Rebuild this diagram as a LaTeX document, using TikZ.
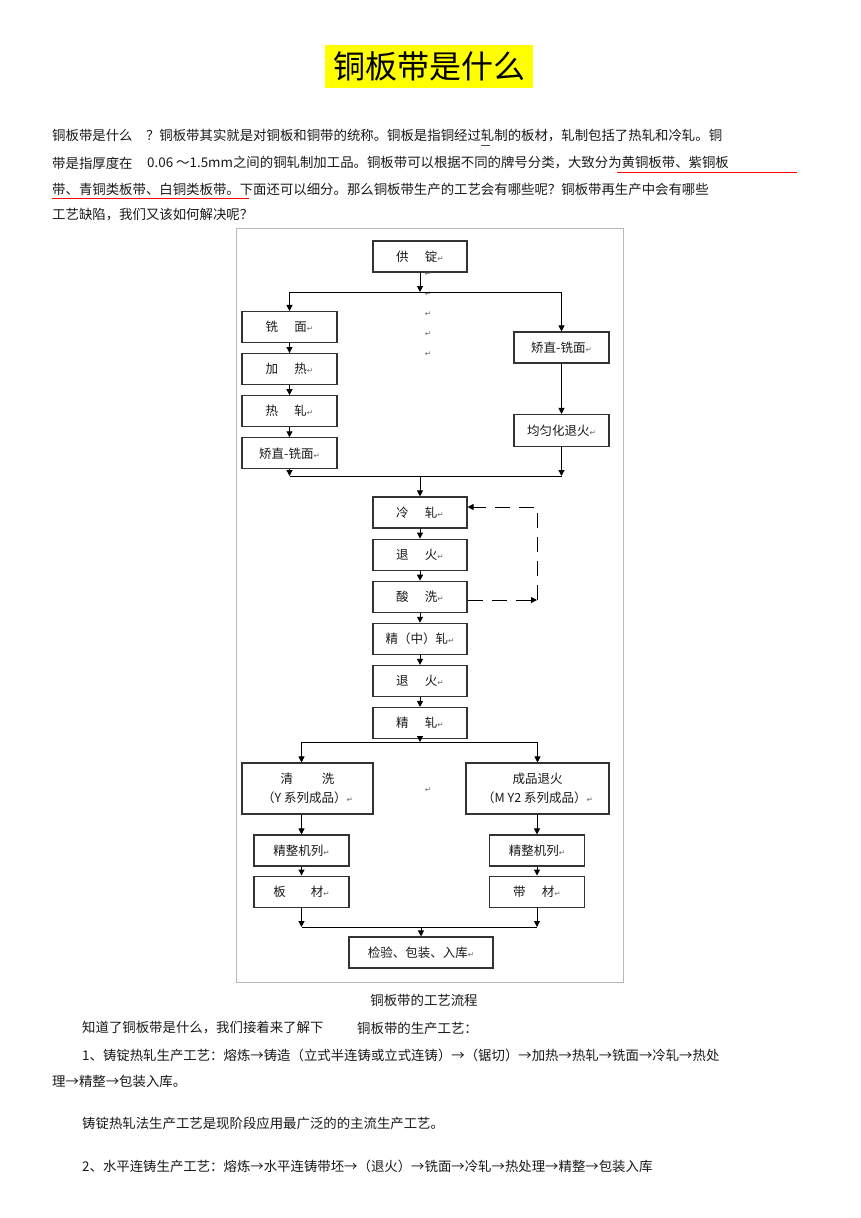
\documentclass[tikz,border=0pt]{standalone}
\usepackage{fontspec}
\setmainfont{Noto Sans CJK SC}
\newfontfamily\symfont{DejaVu Sans}
\usetikzlibrary{positioning, arrows.meta}
\definecolor{hlyellow}{rgb}{1,1,0}
\definecolor{boxgray}{rgb}{0.2,0.2,0.2}
\definecolor{framegray}{rgb}{0.72,0.72,0.72}
\definecolor{textblk}{rgb}{0.1,0.1,0.1}
\newcommand{\retmark}{{\symfont\fontsize{7.5}{7.5}\selectfont\textcolor{black!60}{↵}}}

\tikzset{
  proc/.style={draw=boxgray, line width=1.1pt, minimum width=95pt, minimum height=31pt,
    inner sep=0pt, font=\fontsize{12.5}{19}\selectfont, text=textblk},
  body/.style={anchor=west, inner sep=0pt, font=\fontsize{13.4}{16}\selectfont, text=textblk},
  flow/.style={draw, line width=1pt, -{Triangle[length=6pt,width=6pt]}},
  link/.style={draw, line width=1pt},
  loopback/.style={draw, line width=1pt, dash pattern=on 15pt off 9pt, -{Triangle[length=6pt,width=6pt]}},
}

\begin{document}
\begin{tikzpicture}[x=1pt, y=-1pt]
\useasboundingbox[fill=white] (0,0) rectangle (860,1218);

\node[fill=hlyellow, minimum width=208pt, minimum height=43pt, inner sep=0pt,
font=\fontsize{32}{36}\selectfont] (title) at (429,66.5) {铜板带是什么\hspace{10pt}};

\node[body] (par1) at (52,136) {铜板带是什么　？铜板带其实就是对铜板和铜带的统称。铜板是指铜经过轧制的板材，轧制包括了热轧和冷轧。铜};
\node[body] (par2a) at (52,163) {带是指厚度在};
\node[body] (par2b) at (147,163) {0.06 ～1.5mm之间的铜轧制加工品。铜板带可以根据不同的牌号分类，大致分为黄铜板带、紫铜板};
\node[body] (par3) at (52,189) {带、青铜类板带、白铜类板带。下面还可以细分。那么铜板带生产的工艺会有哪些呢？铜板带再生产中会有哪些};
\node[body] (par4) at (52,215) {工艺缺陷，我们又该如何解决呢？};
\draw[black!70, line width=1pt] (481,145) -- (490,145);
\draw[red, line width=0.9pt] (617,172) -- (797,172);
\draw[red, line width=0.9pt] (52,198) -- (249,198);

\draw[framegray, line width=1pt] (236,228) rectangle (623,982);

\node[proc, minimum width=94pt] (gongding) at (420,256.5) {供\hspace{1.3em}锭\retmark};

\node[proc] (xianmian) at (289.5,327) {铣\hspace{1.3em}面\retmark};
\node[proc, below=10pt of xianmian] (jiare) {加\hspace{1.3em}热\retmark};
\node[proc, below=10pt of jiare] (rezha) {热\hspace{1.3em}轧\retmark};
\node[proc, below=10pt of rezha] (jiaozhiL) {矫直-铣面\retmark};

\node[proc] (jiaozhiR) at (561.5,347.5) {矫直-铣面\retmark};
\node[proc, minimum height=32pt] (junyun) at (561.5,430.5) {均匀化退火\retmark};

\node[proc, minimum width=94pt] (lengzha) at (420,512.5) {冷\hspace{1.3em}轧\retmark};
\node[proc, minimum width=94pt, below=10pt of lengzha] (tuihuo) {退\hspace{1.3em}火\retmark};
\node[proc, minimum width=94pt, below=10pt of tuihuo] (suanxi) {酸\hspace{1.3em}洗\retmark};
\node[proc, minimum width=94pt, below=10pt of suanxi] (zhongzha) {精（中）轧\retmark};
\node[proc, minimum width=94pt, below=10pt of zhongzha] (tuihuob) {退\hspace{1.3em}火\retmark};
\node[proc, minimum width=94pt, below=10pt of tuihuob] (jingzha) {精\hspace{1.3em}轧\retmark};

\node[proc, minimum width=131pt, minimum height=51pt, align=center] (qingxi) at (307.5,788.5)
{清\hspace{2.3em}洗\\（Y 系列成品）\retmark};
\node[proc, minimum width=143pt, minimum height=51pt, align=center] (chengpin) at (537.5,788.5)
{成品退火\\（M Y2 系列成品）\retmark};

\node[proc] (jingzhengL) at (301.5,850.5) {精整机列\retmark};
\node[proc, below=9pt of jingzhengL] (bancai) {板\hspace{2em}材\retmark};
\node[proc] (jingzhengR) at (537,850.5) {精整机列\retmark};
\node[proc, below=9pt of jingzhengR] (daicai) {带\hspace{1.3em}材\retmark};

\node[proc, minimum width=144pt] (jianyan) at (421,952.5) {检验、包装、入库\retmark};

\foreach \i/\yy in {1/274,2/294,3/314,4/334,5/354,6/790}
  \node[inner sep=0pt] (pm\i) at (428,\yy) {\retmark};

\coordinate (split1) at (420,292);
\draw[flow] (gongding) -- (split1);
\draw[link] (xianmian |- split1) -- (jiaozhiR |- split1);
\draw[flow] (xianmian |- split1) -- (xianmian);
\draw[flow] (jiaozhiR |- split1) -- (jiaozhiR);
\draw[flow] (xianmian) -- (jiare);
\draw[flow] (jiare) -- (rezha);
\draw[flow] (rezha) -- (jiaozhiL);
\draw[flow] (jiaozhiR) -- (junyun);

\coordinate (merge1) at (420,476);
\draw[flow] (jiaozhiL) -- (jiaozhiL |- merge1);
\draw[flow] (junyun) -- (junyun |- merge1);
\draw[link] (jiaozhiL |- merge1) -- (junyun |- merge1);
\draw[flow] (merge1) -- (lengzha);

\draw[flow] (lengzha) -- (tuihuo);
\draw[flow] (tuihuo) -- (suanxi);
\draw[flow] (suanxi) -- (zhongzha);
\draw[flow] (zhongzha) -- (tuihuob);
\draw[flow] (tuihuob) -- (jingzha);

\coordinate (loopbot) at (537,600);
\coordinate (looptop) at (537,507);
\draw[loopback] (loopbot -| suanxi.east) -- (loopbot);
\draw[loopback] (loopbot) -- (looptop) -- (looptop -| lengzha.east);

\coordinate (split2) at (420,742);
\draw[flow] (jingzha) -- (split2);
\draw[link] (jingzhengL |- split2) -- (chengpin |- split2);
\draw[flow] (jingzhengL |- split2) -- (jingzhengL |- qingxi.north);
\draw[flow] (chengpin |- split2) -- (chengpin);
\draw[flow] (jingzhengL |- qingxi.south) -- (jingzhengL);
\draw[flow] (jingzhengR |- chengpin.south) -- (jingzhengR);
\draw[flow] (jingzhengL) -- (bancai);
\draw[flow] (jingzhengR) -- (daicai);

\coordinate (merge2) at (421,927);
\draw[flow] (bancai) -- (bancai |- merge2);
\draw[flow] (daicai) -- (daicai |- merge2);
\draw[link] (bancai |- merge2) -- (daicai |- merge2);
\draw[flow] (merge2) -- (jianyan);

\node[inner sep=0pt, font=\fontsize{13.4}{16}\selectfont, text=textblk] (caption) at (424,1000) {铜板带的工艺流程};
\node[body] (know) at (82,1028) {知道了铜板带是什么，我们接着来了解下};
\node[body] (knowb) at (357,1028) {铜板带的生产工艺：};
\node[body] (proc1) at (82,1055) {1、铸锭热轧生产工艺：熔炼→铸造（立式半连铸或立式连铸）→（锯切）→加热→热轧→铣面→冷轧→热处};
\node[body] (proc1b) at (52,1081) {理→精整→包装入库。};
\node[body] (note) at (82,1123) {铸锭热轧法生产工艺是现阶段应用最广泛的的主流生产工艺。};
\node[body] (proc2) at (82,1166) {2、水平连铸生产工艺：熔炼→水平连铸带坯→（退火）→铣面→冷轧→热处理→精整→包装入库};
\end{tikzpicture}
\end{document}
